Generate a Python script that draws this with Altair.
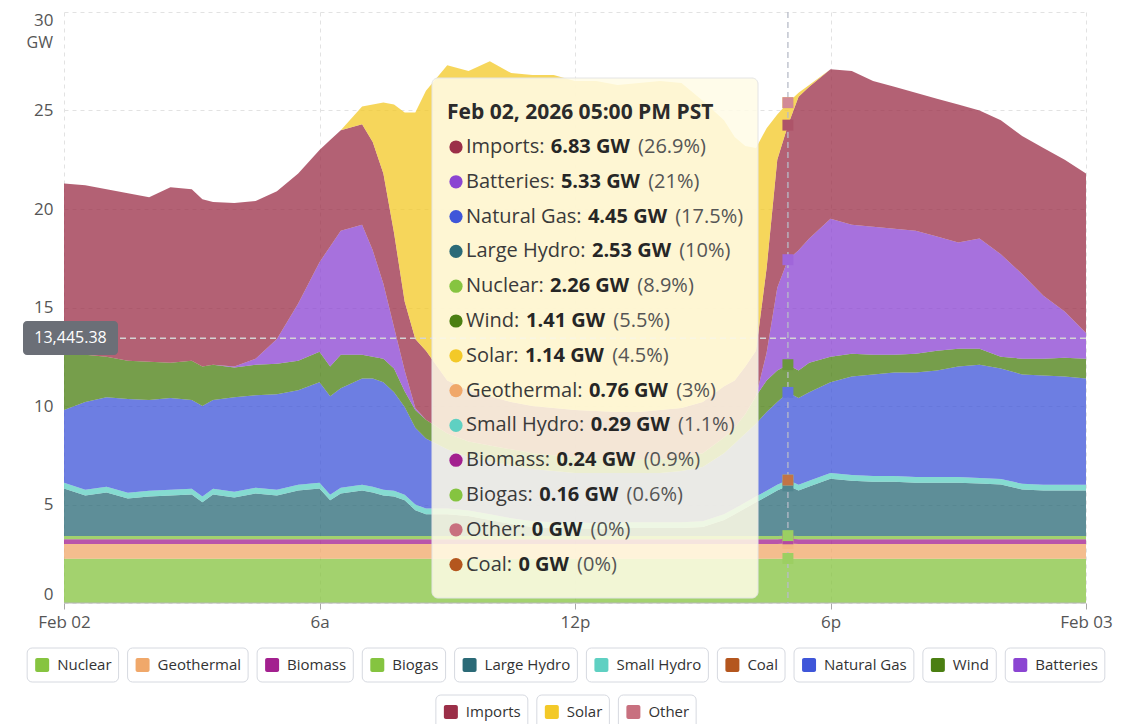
import altair as alt
import pandas as pd

# ---------------- data (GW) ----------------
hours = [0, 0.5, 1, 1.5, 2, 2.5, 3, 3.25, 3.5, 4, 4.5, 5, 5.5, 6, 6.25, 6.5,
         7, 7.25, 7.5, 7.75, 8, 8.25, 8.5, 9, 9.5, 10, 10.5, 11, 11.5, 12, 12.5,
         13, 13.5, 14, 14.5, 15, 15.5, 15.75, 16, 16.25, 16.5, 16.75, 17, 17.25,
         17.5, 18, 18.5, 19, 19.5, 20, 20.5, 21, 21.5, 22, 22.5, 23, 23.5, 24]

x_tick_values = [0, 6, 12, 18, 24]
x_tick_labels = ["Feb 02", "6a", "12p", "6p", "Feb 03"]
y_tick_values = [0, 5, 10, 15, 20, 25, 30]
y_unit = "GW"

series_names = ["Nuclear", "Geothermal", "Biomass", "Biogas", "Large Hydro",
                "Small Hydro", "Coal", "Natural Gas", "Wind", "Batteries",
                "Imports", "Solar", "Other"]
series_colors = ["#86c440", "#f0a86a", "#a3208f", "#85c440", "#2b6a77",
                 "#5fd0c2", "#b4561e", "#3f56d9", "#4b7f12", "#8b45d2",
                 "#9b2f48", "#f3c928", "#c8707f"]

nuclear = [2.25] * 42 + [2.26] + [2.25] * 15
geothermal = [0.75] * 42 + [0.76] + [0.75] * 15
biomass = [0.24] * 58
biogas = [0.16] * 58
large_hydro = [2.41, 2.06, 2.21, 1.91, 2.01, 2.06, 2.11, 1.71, 2.11, 1.96, 2.16, 2.06,
               2.31, 2.41, 1.81, 2.16, 2.31, 2.21, 2.06, 2.01, 1.81, 1.31, 1.11, 1.11,
               1.01, 0.81, 0.61, 0.46, 0.41, 0.41, 0.36, 0.41, 0.41, 0.41, 0.41, 0.46,
               0.81, 1.11, 1.41, 1.71, 2.01, 2.31, 2.53, 2.31, 2.51, 2.91, 2.81, 2.76,
               2.76, 2.71, 2.71, 2.71, 2.66, 2.61, 2.36, 2.31, 2.31, 2.31]
small_hydro = [0.29] * 58
coal = [0.0] * 58
natural_gas = [3.70, 4.45, 4.55, 4.75, 4.60, 4.65, 4.50, 4.60, 4.50, 4.80, 4.70, 4.85,
               4.80, 5.10, 5.00, 5.05, 5.40, 5.50, 5.45, 5.00, 4.45, 3.90, 3.55, 3.00,
               2.70, 2.70, 2.70, 2.65, 2.60, 2.50, 2.55, 2.50, 2.50, 2.50, 2.60, 2.75,
               3.10, 3.30, 3.50, 3.70, 4.00, 4.20, 4.45, 4.40, 4.50, 4.60, 5.00, 5.15,
               5.25, 5.30, 5.40, 5.60, 5.75, 5.60, 5.55, 5.55, 5.50, 5.40]
wind = [3.00, 2.40, 2.05, 1.95, 1.95, 1.80, 2.00, 2.00, 1.80, 1.50, 1.55, 1.55,
        1.50, 1.55, 1.50, 1.70, 1.20, 1.10, 1.20, 1.20, 0.80, 0.90, 0.95, 0.80,
        0.80, 0.80, 0.80, 0.80, 0.80, 0.80, 0.75, 0.70, 0.70, 0.70, 0.70, 0.70,
        0.80, 0.80, 1.00, 1.40, 1.60, 1.60, 1.407, 1.40, 1.50, 1.30, 1.15, 1.00,
        0.90, 0.95, 1.00, 0.90, 0.80, 0.60, 0.80, 0.85, 0.95, 1.00]
batteries = [0, 0, 0, 0, 0, 0, 0, 0, 0, 0.05, 0.30, 1.25,
             2.90, 4.55, 6.10, 6.30, 6.60, 5.40, 3.80, 2.10, 1.05, 0.10, 0, 0,
             0, 0, 0, 0, 0, 0, 0, 0, 0, 0, 0, 0,
             0, 0, 0, 0, 1.40, 4.20, 5.33, 6.10, 6.30, 7.00, 6.55, 6.50,
             6.40, 6.25, 5.80, 5.40, 5.60, 5.20, 4.30, 3.20, 2.35, 1.30]
imports = [8.50, 8.60, 8.50, 8.50, 8.35, 8.90, 8.70, 8.50, 8.25, 8.30, 8.00, 7.50,
           6.60, 5.70, 5.40, 5.10, 5.10, 5.50, 5.60, 4.80, 3.50, 3.50, 3.50, 2.70,
           2.60, 2.50, 2.40, 2.40, 2.40, 2.40, 2.40, 2.40, 2.40, 2.50, 2.50, 2.60,
           2.60, 2.40, 2.40, 2.30, 4.30, 6.50, 6.83, 7.80, 7.70, 7.60, 7.80, 7.40,
           7.20, 7.00, 7.00, 7.00, 6.50, 6.80, 7.00, 7.50, 7.70, 8.10]
solar = [0, 0, 0, 0, 0, 0, 0, 0, 0, 0, 0, 0,
         0, 0, 0, 0, 0.90, 1.90, 3.60, 6.50, 9.60, 11.50, 13.20, 16.00,
         16.20, 17.00, 16.70, 16.80, 16.90, 16.70, 16.75, 16.60, 16.70, 16.70, 16.50, 15.30,
         13.50, 12.35, 11.20, 10.30, 7.10, 2.30, 1.14, 0.20, 0.10, 0, 0, 0,
         0, 0, 0, 0, 0, 0, 0, 0, 0, 0]
other = [0.0] * 58

series_values = [nuclear, geothermal, biomass, biogas, large_hydro, small_hydro, coal,
                 natural_gas, wind, batteries, imports, solar, other]

tooltip_title = "Feb 02, 2026 05:00 PM PST"
hover_hour = 17
crosshair_mw = 13445.38

# ---------------- helpers ----------------
FONT = "Open Sans"
W, H = 1022, 591
X_MAX, Y_MAX = 24.0, 30.0

_W = {' ': 532, '%': 1696, '(': 596, ')': 596, ',': 500, '.': 545, ':': 545,
      'A': 1296, 'B': 1327, 'C': 1292, 'D': 1493, 'E': 1139, 'F': 1057, 'G': 1491,
      'H': 1511, 'I': 571, 'L': 1073, 'M': 1849, 'N': 1556, 'O': 1599, 'P': 1251,
      'S': 1124, 'T': 1139, 'W': 1942,
      'a': 1139, 'b': 1255, 'c': 975, 'd': 1255, 'e': 1149, 'f': 694, 'g': 1122,
      'h': 1257, 'i': 518, 'k': 1075, 'l': 518, 'm': 1905, 'n': 1257, 'o': 1237,
      'p': 1255, 'r': 836, 's': 977, 't': 723, 'u': 1257, 'v': 1026, 'w': 1604,
      'x': 1073, 'y': 1028, 'z': 979}
for _d in "0123456789":
    _W[_d] = 1171


def text_w(s, size, bold=False):
    tot = 0.0
    for ch in s:
        w = _W.get(ch, 1150)
        if bold and not ch.isdigit() and ch != ' ':
            w *= 1.07
        tot += w
    return tot / 2048 * size


def fmt_num(v, nd):
    s = f"{v:.{nd}f}"
    if "." in s:
        s = s.rstrip("0").rstrip(".")
    return s


def lighten(hexc, f):
    r, g, b = (int(hexc[i:i + 2], 16) for i in (1, 3, 5))
    r, g, b = (round(c + (255 - c) * f) for c in (r, g, b))
    return f"#{r:02x}{g:02x}{b:02x}"


# overlay placement helpers (plot-pixel offsets -> axis units)
def hx(px):
    return px * X_MAX / W


def gy(py):
    return Y_MAX - py * Y_MAX / H


# ---------------- long table ----------------
rows = []
for i, (name, vals) in enumerate(zip(series_names, series_values)):
    for h, v in zip(hours, vals):
        rows.append({"hour": h, "source": name, "idx": i, "gw": v})
long = pd.DataFrame(rows)

label_expr = " : ".join(
    f"datum.value == {v} ? '{t}'" for v, t in zip(x_tick_values, x_tick_labels)
) + " : ''"

x_enc = alt.X("hour:Q", scale=alt.Scale(domain=[0, X_MAX], nice=False, zero=False),
              axis=alt.Axis(values=x_tick_values, labelExpr=label_expr, title=None,
                            grid=True, gridDash=[4, 4], gridColor="#e2e2e2",
                            domain=False, ticks=True, tickSize=6, tickColor="#a8a8a8",
                            labelFont=FONT, labelFontSize=17, labelColor="#555555",
                            labelPadding=5, labelFlush=False, labelOverlap=False))
y_enc = alt.Y("gw:Q", stack="zero", scale=alt.Scale(domain=[0, Y_MAX], nice=False),
              axis=alt.Axis(values=y_tick_values, title=None, grid=True,
                            gridDash=[4, 4], gridColor="#e2e2e2", domain=False,
                            ticks=False, labelFont=FONT, labelFontSize=17,
                            labelColor="#555555", labelPadding=11, labelFlush=True))
color_scale = alt.Scale(domain=series_names, range=series_colors)

XQ = alt.X("hour:Q")
YQ = alt.Y("gw:Q", stack=None)

areas = alt.Chart(long).mark_area(opacity=0.76, interpolate="linear").encode(
    x=x_enc, y=y_enc,
    color=alt.Color("source:N", scale=color_scale, legend=None),
    order=alt.Order("idx:Q", sort="ascending"),
)

base_rule = alt.Chart(pd.DataFrame({"gw": [0.0]})).mark_rule(
    color="#b5b5b5", strokeWidth=1.2).encode(y=YQ)

vline = alt.Chart(pd.DataFrame({"hour": [hover_hour]})).mark_rule(
    color="#b8bcc8", strokeDash=[6, 4], strokeWidth=1.3).encode(x=XQ)

hline = alt.Chart(pd.DataFrame({"gw": [crosshair_mw / 1000]})).mark_rule(
    color="#d4d4d4", strokeDash=[6, 4], strokeWidth=1.5).encode(y=YQ)

# markers at the hovered time (stack tops)
hi = hours.index(hover_hour)
cum = 0.0
mk = []
for name, c, vals in zip(series_names, series_colors, series_values):
    cum += vals[hi]
    mk.append({"hour": hover_hour, "gw": cum, "mc": lighten(c, 0.18)})
markers = alt.Chart(pd.DataFrame(mk)).mark_point(
    shape="square", filled=True, size=120, opacity=1).encode(
    x=XQ, y=YQ, color=alt.Color("mc:N", scale=None))


def rect_df(x, x2, y, y2):
    return pd.DataFrame({"hour": [hx(x)], "hour2": [hx(x2)], "gw": [gy(y)], "gw2": [gy(y2)]})


# ---------------- tooltip ----------------
tip_box = alt.Chart(rect_df(368, 694, 66, 586)).mark_rect(
    fill="#fffce6", fillOpacity=0.86, cornerRadius=6, stroke="#e4e4e4", strokeWidth=1
).encode(x=XQ, x2="hour2:Q", y=YQ, y2="gw2:Q")

vals_now = [(n, c, v[hi], i) for i, (n, c, v) in enumerate(zip(series_names, series_colors, series_values))]
total = sum(r[2] for r in vals_now)
ordered = sorted(vals_now, key=lambda r: (-r[2], -r[3]))

name_x = 402
t_name, t_val, t_pct, t_dot = [], [], [], []
for k, (n, c, v, _) in enumerate(ordered):
    yy = 135 + 34.8 * k
    nm = f"{n}:"
    vs = f"{fmt_num(v, 2)} GW"
    ps = f"({fmt_num(round(v / total * 100, 1), 1)}%)"
    vx = name_x + text_w(nm + " ", 20) + 1
    pxx = vx + text_w(vs, 20, bold=True) + text_w(" ", 20) + 1
    t_name.append({"hour": hx(name_x), "gw": gy(yy), "t": nm})
    t_val.append({"hour": hx(vx), "gw": gy(yy), "t": vs})
    t_pct.append({"hour": hx(pxx), "gw": gy(yy), "t": ps})
    t_dot.append({"hour": hx(392), "gw": gy(yy), "c": c})

tip_title = alt.Chart(pd.DataFrame({"hour": [hx(383)], "gw": [gy(101)], "t": [tooltip_title]})).mark_text(
    align="left", baseline="middle", font=FONT, fontSize=21, fontWeight="bold", color="#2b2b2b"
).encode(x=XQ, y=YQ, text="t:N")
tip_name = alt.Chart(pd.DataFrame(t_name)).mark_text(
    align="left", baseline="middle", font=FONT, fontSize=20, color="#3a3a3a"
).encode(x=XQ, y=YQ, text="t:N")
tip_val = alt.Chart(pd.DataFrame(t_val)).mark_text(
    align="left", baseline="middle", font=FONT, fontSize=20, fontWeight="bold", color="#262626"
).encode(x=XQ, y=YQ, text="t:N")
tip_pct = alt.Chart(pd.DataFrame(t_pct)).mark_text(
    align="left", baseline="middle", font=FONT, fontSize=20, color="#555555"
).encode(x=XQ, y=YQ, text="t:N")
tip_dot = alt.Chart(pd.DataFrame(t_dot)).mark_circle(size=175, opacity=1).encode(
    x=XQ, y=YQ, color=alt.Color("c:N", scale=None))

# y-axis crosshair tag
ytag_box = alt.Chart(rect_df(-41, 54, 309, 343)).mark_rect(
    fill="#6b6f77", cornerRadius=4).encode(x=XQ, x2="hour2:Q", y=YQ, y2="gw2:Q")
ytag_txt = alt.Chart(pd.DataFrame({"hour": [hx(6.5)], "gw": [gy(326)], "t": [f"{crosshair_mw:,.2f}"]})).mark_text(
    align="center", baseline="middle", font=FONT, fontSize=16, color="white"
).encode(x=XQ, y=YQ, text="t:N")

unit_txt = alt.Chart(pd.DataFrame({"hour": [hx(-11)], "gw": [gy(31)], "t": [y_unit]})).mark_text(
    align="right", baseline="middle", font=FONT, fontSize=16, color="#555555"
).encode(x=XQ, y=YQ, text="t:N")

# ---------------- legend (button style) ----------------
leg_rows = [series_names[:10], series_names[10:]]
leg_top = [636, 683]
center = 502
gap = 9
btns, sws, labs = [], [], []
for r, names in enumerate(leg_rows):
    widths = [text_w(n, 15) + 37 for n in names]
    totw = sum(widths) + gap * (len(names) - 1)
    x0 = center - totw / 2
    top = leg_top[r]
    for n, w in zip(names, widths):
        c = series_colors[series_names.index(n)]
        btns.append({"hour": hx(x0), "hour2": hx(x0 + w), "gw": gy(top), "gw2": gy(top + 34)})
        sws.append({"hour": hx(x0 + 8), "hour2": hx(x0 + 22), "gw": gy(top + 10),
                    "gw2": gy(top + 24), "c": c})
        labs.append({"hour": hx(x0 + 30), "gw": gy(top + 17), "t": n})
        x0 += w + gap

leg_btn = alt.Chart(pd.DataFrame(btns)).mark_rect(
    fill="white", stroke="#d6d9e0", strokeWidth=1, cornerRadius=5
).encode(x=XQ, x2="hour2:Q", y=YQ, y2="gw2:Q")
leg_sw = alt.Chart(pd.DataFrame(sws)).mark_rect(cornerRadius=2).encode(
    x=XQ, x2="hour2:Q", y=YQ, y2="gw2:Q", color=alt.Color("c:N", scale=None))
leg_lab = alt.Chart(pd.DataFrame(labs)).mark_text(
    align="left", baseline="middle", font=FONT, fontSize=15, color="#333333"
).encode(x=XQ, y=YQ, text="t:N")

chart = alt.layer(
    areas, base_rule, vline, hline, markers,
    tip_box, tip_dot, tip_title, tip_name, tip_val, tip_pct,
    ytag_box, ytag_txt, unit_txt,
    leg_btn, leg_sw, leg_lab,
).properties(
    width=W, height=H,
    autosize=alt.AutoSizeParams(type="none"),
    padding={"left": 56, "top": 4, "right": 39, "bottom": 121},
).configure_view(stroke=None)

chart.save("out.html", embed_options={"renderer": "svg", "actions": False})
